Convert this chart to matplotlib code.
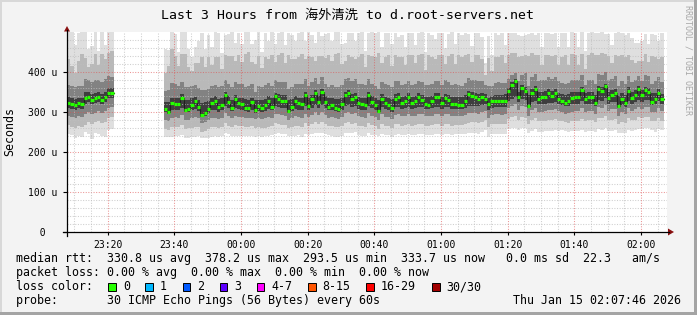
import numpy as np
import matplotlib
matplotlib.use('Agg')
import matplotlib.pyplot as plt
from matplotlib.patches import Rectangle, Polygon
from matplotlib.lines import Line2D

plt.rcParams['font.family'] = ['DejaVu Sans Mono', 'Noto Sans CJK SC']

W, H, DPI = 697, 315, 100

# ── data: one sample per minute, first sample at 23:07:46 (minutes after 23:00) ──
t_start = 7 + 46 / 60
gap = [None] * 15          # no data 23:22 .. 23:36

# median rtt (microseconds)
median = [323, 320, 317, 323, 320, 334, 338, 331, 334, 338, 331, 337, 347, 347] + gap + [
    308, 300, 322, 321, 319, 334, 305, 307, 318, 327,
    312, 292, 297, 307, 322, 328, 312, 318, 343, 324,
    310, 333, 322, 319, 310, 309, 324, 304, 315, 310,
    317, 327, 312, 340, 332, 328, 328, 303, 313, 327,
    322, 320, 342, 315, 333, 347, 325, 350, 325, 312,
    317, 310, 308, 320, 343, 348, 333, 337, 322, 320,
    318, 343, 325, 318, 302, 332, 322, 318, 310, 333,
    337, 322, 327, 337, 322, 327, 337, 330, 320, 317,
    327, 337, 337, 322, 335, 330, 320, 320, 318, 318,
    327, 345, 340, 338, 332, 337, 332, 320, 327, 328,
    328, 328, 328, 353, 367, 377, 338, 360, 352, 315,
    348, 358, 333, 337, 338, 347, 340, 347, 332, 328,
    322, 327, 335, 338, 338, 355, 333, 337, 337, 322,
    358, 352, 365, 335, 343, 347, 315, 333, 322, 352,
    335, 343, 357, 342, 355, 350, 325, 333, 347, 332]

# smoke: distance of the ping quantiles from the median (microseconds)
top = [180, 185, 150, 175, 190, 165, 120, 135, 165, 115, 170, 130, 155, 160] + gap + [
    150, 155, 185, 175, 130, 175, 200, 150, 120, 135,
    165, 205, 160, 185, 140, 175, 185, 130, 150, 170,
    190, 140, 175, 150, 190, 195, 145, 175, 185, 140,
    180, 150, 190, 130, 165, 175, 140, 195, 180, 150,
    175, 180, 135, 185, 160, 125, 175, 140, 170, 185,
    160, 190, 195, 150, 130, 150, 165, 140, 175, 185,
    135, 155, 175, 180, 200, 130, 175, 180, 160, 165,
    150, 170, 135, 160, 175, 140, 160, 170, 130, 180,
    165, 145, 160, 175, 125, 165, 180, 150, 180, 175,
    170, 150, 125, 160, 165, 150, 90, 170, 115, 170,
    165, 170, 140, 145, 130, 120, 155, 130, 140, 180,
    150, 135, 165, 125, 160, 150, 155, 150, 130, 170,
    175, 135, 165, 160, 125, 145, 120, 160, 165, 175,
    140, 150, 130, 160, 125, 150, 185, 165, 170, 145,
    150, 130, 115, 135, 140, 120, 170, 160, 130, 165]
hi90 = [110, 95, 80, 105, 125, 100, 75, 90, 110, 80, 115, 95, 100, 105] + gap + [
    90, 115, 135, 120, 95, 110, 140, 105, 85, 95,
    110, 145, 115, 130, 95, 110, 125, 90, 100, 115,
    130, 95, 120, 105, 135, 140, 100, 115, 125, 100,
    120, 105, 130, 85, 110, 120, 95, 140, 120, 105,
    115, 125, 90, 125, 105, 80, 115, 90, 110, 130,
    110, 135, 140, 100, 85, 95, 105, 95, 115, 125,
    95, 100, 115, 120, 145, 90, 115, 125, 105, 110,
    100, 115, 90, 105, 120, 95, 105, 115, 85, 125,
    110, 95, 105, 120, 85, 110, 125, 100, 125, 120,
    115, 100, 85, 105, 110, 95, 60, 115, 75, 110,
    110, 115, 95, 90, 80, 70, 100, 80, 90, 125,
    100, 85, 110, 80, 105, 95, 100, 95, 85, 110,
    120, 90, 110, 105, 80, 90, 75, 105, 110, 120,
    85, 95, 80, 105, 80, 95, 125, 110, 115, 90,
    95, 80, 70, 85, 90, 75, 115, 105, 85, 105]
hi75 = [45, 45, 45, 42, 45, 48, 42, 45, 45, 42, 45, 45, 42, 40] + gap + [
    45, 55, 50, 48, 46, 42, 58, 55, 48, 40,
    48, 62, 58, 50, 42, 40, 50, 48, 38, 45,
    52, 42, 48, 50, 52, 55, 45, 46, 50, 52,
    50, 45, 52, 40, 44, 48, 48, 55, 50, 42,
    48, 50, 40, 50, 42, 38, 46, 38, 44, 50,
    50, 52, 55, 48, 40, 38, 44, 46, 48, 50,
    50, 40, 45, 48, 55, 44, 48, 50, 52, 44,
    40, 46, 44, 40, 45, 44, 40, 44, 48, 50,
    44, 40, 40, 46, 44, 46, 48, 50, 50, 48,
    45, 40, 40, 42, 45, 40, 35, 45, 38, 45,
    46, 44, 45, 30, 25, 20, 40, 32, 45, 50,
    40, 38, 44, 42, 42, 40, 42, 40, 45, 45,
    48, 46, 44, 42, 42, 38, 35, 44, 44, 48,
    38, 40, 36, 44, 40, 42, 50, 44, 48, 38,
    40, 38, 32, 36, 38, 40, 46, 44, 40, 44]
hi60 = [15, 14, 15, 13, 14, 15, 13, 14, 14, 13, 14, 14, 12, 12] + gap + [
    18, 25, 14, 15, 16, 10, 26, 24, 16, 11,
    18, 30, 28, 20, 13, 11, 20, 16, 8, 15,
    20, 10, 14, 15, 22, 22, 12, 26, 16, 20,
    16, 12, 22, 8, 12, 14, 14, 28, 20, 12,
    14, 15, 8, 20, 10, 8, 14, 8, 14, 22,
    18, 22, 24, 15, 8, 8, 12, 10, 16, 16,
    16, 8, 14, 18, 28, 12, 16, 18, 22, 12,
    10, 16, 14, 10, 16, 14, 10, 13, 18, 20,
    14, 10, 10, 16, 10, 12, 18, 18, 20, 20,
    15, 8, 10, 10, 12, 10, 12, 16, 14, 15,
    15, 15, 16, 8, 8, 6, 12, 8, 10, 28,
    10, 8, 16, 14, 14, 10, 12, 10, 16, 18,
    20, 17, 14, 12, 12, 8, 14, 12, 12, 20,
    8, 10, 6, 14, 12, 10, 26, 14, 20, 10,
    14, 12, 8, 12, 8, 10, 22, 14, 10, 14]
lo40 = [12, 12, 12, 12, 12, 14, 14, 12, 12, 12, 12, 12, 12, 12] + gap + [
    8, 5, 16, 15, 14, 24, 6, 8, 14, 20,
    10, 4, 6, 10, 18, 22, 12, 14, 28, 14,
    8, 24, 15, 14, 8, 8, 18, 6, 12, 10,
    14, 20, 8, 26, 20, 18, 18, 5, 10, 20,
    16, 15, 28, 10, 22, 30, 14, 32, 14, 8,
    12, 8, 8, 14, 28, 30, 20, 22, 14, 14,
    14, 28, 16, 12, 5, 20, 15, 12, 10, 20,
    24, 14, 18, 24, 14, 18, 24, 18, 12, 10,
    18, 24, 24, 14, 22, 18, 12, 12, 10, 10,
    16, 30, 24, 22, 18, 20, 12, 16, 16, 16,
    16, 16, 16, 26, 34, 40, 14, 28, 22, 6,
    24, 30, 14, 18, 18, 24, 18, 22, 12, 10,
    8, 12, 16, 18, 18, 28, 14, 16, 16, 8,
    28, 24, 30, 14, 18, 22, 6, 15, 10, 24,
    14, 18, 26, 16, 24, 20, 8, 14, 20, 12]
lo25 = [32, 33, 33, 34, 33, 38, 38, 35, 36, 36, 33, 35, 36, 35] + gap + [
    28, 22, 36, 34, 33, 42, 24, 26, 33, 40,
    28, 20, 22, 28, 36, 42, 30, 33, 46, 34,
    26, 42, 35, 32, 26, 25, 38, 22, 30, 28,
    32, 40, 26, 44, 38, 36, 37, 22, 28, 38,
    35, 34, 46, 28, 40, 48, 32, 50, 33, 26,
    30, 26, 25, 33, 46, 48, 38, 40, 32, 33,
    32, 46, 35, 30, 22, 38, 34, 30, 28, 40,
    42, 32, 36, 42, 32, 36, 42, 36, 30, 28,
    36, 42, 42, 32, 40, 36, 30, 30, 28, 28,
    34, 48, 42, 40, 36, 38, 30, 34, 35, 34,
    34, 35, 34, 44, 52, 58, 32, 46, 40, 24,
    42, 48, 32, 36, 36, 42, 36, 40, 30, 28,
    26, 30, 34, 36, 36, 46, 32, 34, 34, 26,
    46, 42, 48, 32, 36, 40, 24, 34, 28, 42,
    32, 36, 44, 34, 42, 38, 26, 32, 38, 30]
lo10 = [55, 58, 57, 57, 58, 66, 63, 61, 60, 60, 59, 61, 62, 59] + gap + [
    50, 44, 60, 58, 56, 66, 48, 48, 58, 64,
    50, 42, 45, 50, 60, 66, 52, 56, 70, 58,
    48, 66, 58, 55, 48, 46, 60, 44, 52, 50,
    56, 64, 48, 68, 62, 60, 60, 44, 50, 62,
    58, 58, 70, 50, 64, 72, 56, 74, 56, 48,
    52, 48, 46, 56, 70, 72, 62, 64, 56, 56,
    55, 70, 58, 52, 44, 62, 56, 52, 50, 64,
    66, 56, 60, 66, 56, 60, 66, 60, 54, 52,
    60, 66, 66, 56, 64, 60, 54, 52, 50, 50,
    58, 72, 66, 64, 60, 62, 52, 58, 58, 58,
    58, 58, 58, 70, 80, 86, 58, 72, 66, 46,
    68, 74, 56, 60, 60, 66, 60, 64, 54, 50,
    48, 54, 58, 60, 60, 72, 56, 58, 58, 48,
    72, 68, 74, 56, 62, 64, 46, 58, 50, 68,
    56, 62, 70, 58, 68, 62, 48, 56, 62, 54]
bot = [78, 78, 82, 83, 82, 84, 93, 99, 86, 93, 91, 99, 92, 89] + gap + [
    70, 62, 85, 80, 78, 92, 70, 72, 80, 90,
    72, 58, 62, 72, 84, 88, 74, 78, 95, 80,
    70, 92, 82, 78, 70, 68, 85, 66, 74, 72,
    78, 88, 70, 95, 85, 82, 84, 62, 72, 86,
    80, 82, 98, 72, 88, 100, 78, 102, 80, 70,
    76, 72, 70, 80, 96, 100, 86, 88, 80, 80,
    78, 96, 82, 76, 62, 86, 80, 76, 72, 90,
    92, 80, 84, 92, 80, 84, 92, 86, 78, 74,
    84, 92, 92, 80, 90, 86, 78, 76, 72, 74,
    82, 98, 92, 90, 86, 88, 76, 82, 82, 82,
    82, 82, 82, 96, 108, 116, 84, 100, 92, 68,
    96, 100, 82, 86, 86, 94, 88, 92, 80, 74,
    70, 78, 82, 86, 86, 100, 82, 84, 84, 72,
    100, 96, 104, 82, 90, 92, 68, 86, 74, 96,
    82, 88, 100, 84, 96, 90, 70, 82, 90, 78]

tick_minutes = [20, 40, 60, 80, 100, 120, 140, 160, 180]
tick_labels = ['23:20', '23:40', '00:00', '00:20', '00:40', '01:00', '01:20', '01:40', '02:00']
ytick_vals = [0, 100, 200, 300, 400]
ytick_labels = ['  0  ', '100 u', '200 u', '300 u', '400 u']

loss_labels = ['0', '1', '2', '3', '4-7', '8-15', '16-29', '30/30']
loss_colors = ['#26ff00', '#00b8ff', '#0059ff', '#5e00ff', '#ff00ff', '#ff5500', '#ff0000', '#a00000']

title = 'Last 3 Hours from 海外清洗 to d.root-servers.net'
legend_rows = [
    'median rtt:  330.8 us avg  378.2 us max  293.5 us min  333.7 us now   0.0 ms sd  22.3   am/s',
    'packet loss: 0.00 % avg  0.00 % max  0.00 % min  0.00 % now',
    'loss color:',
    'probe:       30 ICMP Echo Pings (56 Bytes) every 60s',
]
stamp = 'Thu Jan 15 02:07:46 2026'


def arr(a):
    return np.array([np.nan if v is None else v for v in a], dtype=float)


med = arr(median)
n = len(med)
x = t_start + np.arange(n)
valid = ~np.isnan(med)
idx = np.flatnonzero(valid)
segs = np.split(idx, np.flatnonzero(np.diff(idx) > 1) + 1)


def fx(px):
    return px / W


def fy(py):
    return 1 - py / H


fig = plt.figure(figsize=(W / DPI, H / DPI), dpi=DPI, facecolor='#f3f3f3')
ax = fig.add_axes([fx(67), fy(232), 600 / W, 200 / H])
ax.set_facecolor('white')
ax.set_xlim(t_start, t_start + 180)
ax.set_ylim(0, 500)
for s in ax.spines.values():
    s.set_visible(False)

# smoke bands, outermost first
bands = [(bot, top, '#dfdfdf'), (lo10, hi90, '#b9b9b9'),
         (lo25, hi75, '#828282'), (lo40, hi60, '#3e3e3e')]
for dn, up, col in bands:
    lo = med - arr(dn)
    hi = med + arr(up)
    for sg in segs:
        edges = np.append(x[sg], x[sg[-1]] + 1)
        xs = np.repeat(edges, 2)[1:-1]
        ax.fill_between(xs, np.repeat(lo[sg], 2), np.repeat(hi[sg], 2),
                        color=col, lw=0, zorder=1)

# grid
GRID = (0.75, 0.75, 0.75, 0.75)
MGRID = (0.87, 0.31, 0.31, 0.6)
for v in range(20, 500, 20):
    ax.axhline(v, color=MGRID if v % 100 == 0 else GRID, lw=0.75,
               ls=(0, (1, 1.5)), zorder=3)
for m in range(10, 190, 5):
    if t_start < m < t_start + 180:
        ax.axvline(m, color=MGRID if m % 20 == 0 else GRID, lw=0.75,
                   ls=(0, (1, 1.5)), zorder=3)

# median: dark connector + green step per sample
for sg in segs:
    edges = np.append(x[sg], x[sg[-1]] + 1)
    xs = np.repeat(edges, 2)[1:-1]
    ax.plot(xs, np.repeat(med[sg], 2), color='#202020', lw=0.8, zorder=4)
ax.hlines(med[valid], x[valid], x[valid] + 1, colors=loss_colors[0], lw=2.3,
          zorder=5, capstyle='butt')

ax.set_yticks(ytick_vals)
ax.set_yticklabels(ytick_labels)
ax.set_xticks(tick_minutes)
ax.set_xticklabels(tick_labels)
ax.tick_params(axis='y', length=3, width=0.8, pad=4, labelsize=7.05)
ax.tick_params(axis='x', length=2, width=0.8, pad=4, labelsize=7.05)

# axes with arrows
fig.add_artist(Line2D([fx(67), fx(67)], [fy(236), fy(30)], color='black', lw=0.9))
fig.add_artist(Line2D([fx(63), fx(669)], [fy(232), fy(232)], color='black', lw=0.9))
fig.add_artist(Polygon([(fx(64), fy(31.5)), (fx(70), fy(31.5)), (fx(67), fy(26))],
                       closed=True, fc='#8b1010', ec='none'))
fig.add_artist(Polygon([(fx(668), fy(228.5)), (fx(668), fy(235.5)), (fx(674), fy(232))],
                       closed=True, fc='#8b1010', ec='none'))

# texts
fig.text(fx(347.5), fy(15), title, ha='center', va='center', fontsize=9.5)
fig.text(fx(10), fy(131), 'Seconds', rotation=90, ha='center', va='center', fontsize=8.4)
fig.text(fx(688), fy(5), 'RRDTOOL / TOBI OETIKER', rotation=270, ha='center', va='top',
         fontsize=6, color='#a8a8a8')

row_y = [258.5, 272.5, 286.5, 300.5]
for txt, yy in zip(legend_rows, row_y):
    fig.text(fx(16), fy(yy), txt, ha='left', va='center', fontsize=8.4)
fig.text(fx(681), fy(row_y[3]), stamp, ha='right', va='center', fontsize=8.4)

bx = 108.3
for lab, col in zip(loss_labels, loss_colors):
    fig.add_artist(Rectangle((fx(bx), fy(291)), 7.7 / W, 7.7 / H, transform=fig.transFigure,
                             fc=col, ec='black', lw=0.7))
    fig.text(fx(bx + 14.7), fy(row_y[2]), lab, ha='left', va='center', fontsize=8.4)
    bx += 30 + 7.1 * len(lab)

# 3d frame
fig.add_artist(Rectangle((0, fy(2)), 1, 2 / H, transform=fig.transFigure, fc='#d8d8d8', ec='none'))
fig.add_artist(Rectangle((0, 0), 2 / W, 1, transform=fig.transFigure, fc='#d8d8d8', ec='none'))
fig.add_artist(Rectangle((0, 0), 1, 3 / H, transform=fig.transFigure, fc='#a4a4a4', ec='none'))
fig.add_artist(Rectangle((fx(694), 0), 3 / W, 1, transform=fig.transFigure, fc='#a4a4a4', ec='none'))

fig.savefig('out.png', dpi=DPI, facecolor=fig.get_facecolor())
